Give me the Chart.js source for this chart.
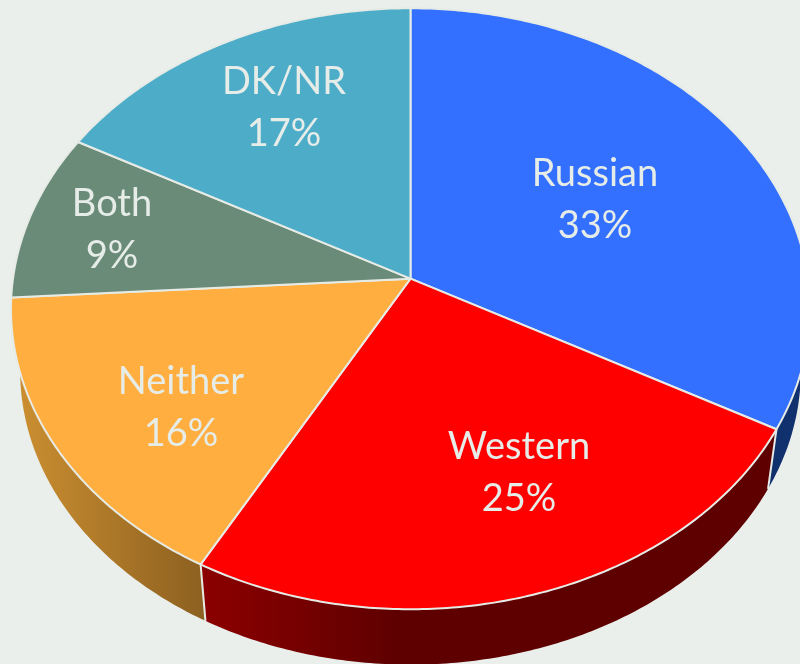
<!DOCTYPE html>
<html>
<head>
<meta charset="utf-8">
<style>
html,body{margin:0;padding:0;background:#eaefec;overflow:hidden}
canvas{display:block}
</style>
<script src="https://cdn.jsdelivr.net/npm/chart.js@4"></script>
</head>
<body>
<canvas id="c" width="800" height="664"></canvas>
<script>
const categories = ['Russian', 'Western', 'Neither', 'Both', 'DK/NR'];
const shares = [33, 25, 16, 9, 17];
const topColors = ['#3370ff', '#ff0000', '#ffae3f', '#6a8b78', '#4dadc8'];
const sideStart = ['#10306e', '#8b0000', '#c98d30', '#4a6254', '#35798c'];
const sideEnd = ['#10306e', '#5e0000', '#8c6020', '#4a6254', '#35798c'];
const sideGradX = [[760, 800], [205, 400], [25, 205], [0, 100], [80, 410]];
const labelX = [595, 519, 181, 112, 284];
const labelY = [198, 471, 406, 228, 106];

const TILT = -0.1, AX = 397.5, AY = 297.5, APEX_X = 410.5, APEX_Y = 278.7;
const RIM_SCALE = 0.977, RIM_DROP = 63;

function project(angle, rim) {
  const u = Math.cos(angle), v = Math.sin(angle), w = 1 + TILT * v;
  const s = rim ? RIM_SCALE : 1;
  return [APEX_X + s * AX * u / w, APEX_Y + (rim ? RIM_DROP : 0) + s * AY * v / w];
}
function sweep(ctx, a0, a1, rim) {
  const n = Math.max(2, Math.ceil(Math.abs(a1 - a0) * 90));
  for (let k = 0; k <= n; k++) {
    const p = project(a0 + (a1 - a0) * k / n, rim);
    ctx.lineTo(p[0], p[1]);
  }
}

const tiltedPie = {
  id: 'tiltedPie',
  beforeDatasetsDraw(chart) {
    const ctx = chart.ctx, arcs = chart.getDatasetMeta(0).data;
    const edge = '#e6ebe6';
    ctx.save();
    ctx.lineJoin = 'round';
    // side wall
    arcs.forEach((el, i) => {
      const g = ctx.createLinearGradient(sideGradX[i][0], 0, sideGradX[i][1], 0);
      g.addColorStop(0, sideStart[i]);
      g.addColorStop(1, sideEnd[i]);
      ctx.beginPath();
      sweep(ctx, el.startAngle, el.endAngle, false);
      sweep(ctx, el.endAngle, el.startAngle, true);
      ctx.closePath();
      ctx.fillStyle = g;
      ctx.fill();
    });
    // wall dividers at visible slice boundaries
    ctx.strokeStyle = edge;
    ctx.lineWidth = 2;
    arcs.slice(0, 2).forEach(el => {
      const a = project(el.endAngle, false), b = project(el.endAngle, true);
      ctx.beginPath();
      ctx.moveTo(a[0], a[1]);
      ctx.lineTo(b[0], b[1]);
      ctx.stroke();
    });
    // top face
    arcs.forEach((el, i) => {
      ctx.beginPath();
      ctx.moveTo(APEX_X, APEX_Y);
      sweep(ctx, el.startAngle, el.endAngle, false);
      ctx.closePath();
      ctx.fillStyle = el.options.backgroundColor;
      ctx.fill();
      ctx.strokeStyle = edge;
      ctx.lineWidth = 2;
      ctx.stroke();
    });
    // labels
    ctx.fillStyle = '#e6ece8';
    ctx.font = '38px Lato';
    ctx.textAlign = 'center';
    ctx.textBaseline = 'middle';
    categories.forEach((name, i) => {
      ctx.fillText(name, labelX[i], labelY[i] - 24);
      ctx.fillText(shares[i] + '%', labelX[i], labelY[i] + 28);
    });
    ctx.restore();
    return false;
  }
};

new Chart(document.getElementById('c'), {
  type: 'pie',
  data: {
    labels: categories,
    datasets: [{ data: shares, backgroundColor: topColors, borderWidth: 0 }]
  },
  options: {
    responsive: false,
    animation: false,
    plugins: { legend: { display: false }, tooltip: { enabled: false } }
  },
  plugins: [tiltedPie]
});
</script>
</body>
</html>
